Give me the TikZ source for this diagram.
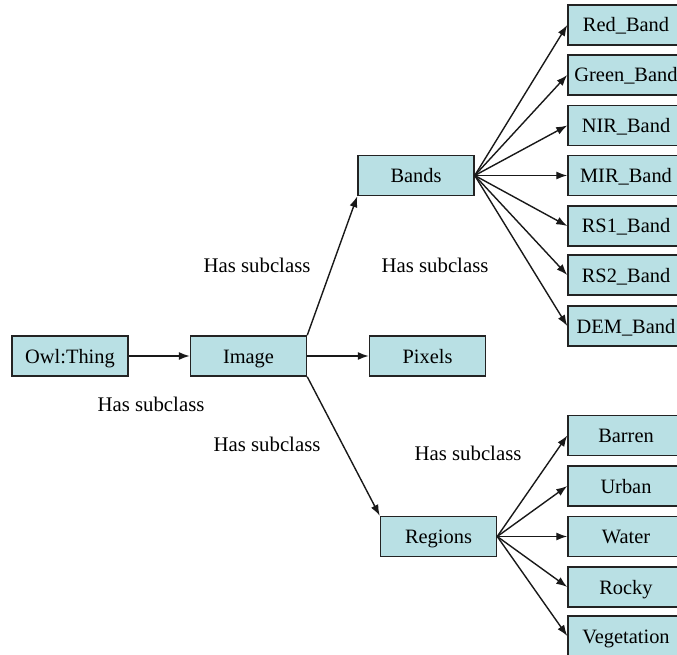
\documentclass[tikz,border=0pt]{standalone}
\usepackage{fontspec}
\setmainfont{Liberation Serif}
\usetikzlibrary{arrows.meta}
\definecolor{boxfill}{RGB}{185,224,228}
\definecolor{boxline}{RGB}{35,35,35}
\tikzset{
  cls/.style={draw=boxline, fill=boxfill, line width=1.5pt, rectangle,
    minimum width=116pt, minimum height=40pt, inner sep=0pt,
    text height=17pt, text depth=3pt,
    font=\fontsize{20.4}{24}\selectfont},
  rel/.style={draw=black!90, line width=1.4pt, -{Latex[length=11pt,width=8pt]}},
  lbl/.style={font=\fontsize{20.8}{24}\selectfont, inner sep=0pt}
}
\begin{document}
\begin{tikzpicture}[x=1pt,y=-1pt]
\useasboundingbox (0,0) rectangle (677,655);
\begin{scope}
\clip (0,0) rectangle (677,655);
% root and first level
\node[cls] (owl) at (70,356) {Owl:Thing};
\node[cls] (img) at (248.5,356) {Image};
\node[cls] (bands) at (416,175.5) {Bands};
\node[cls] (pix) at (427.5,356) {Pixels};
\node[cls] (reg) at (438.5,536.5) {Regions};
% band classes
\node[cls] (red)   at (626,25)  {Red\_Band};
\node[cls] (green) at (626,75)  {Green\_Band};
\node[cls] (nir)   at (626,125.5) {NIR\_Band};
\node[cls] (mir)   at (626,175.5) {MIR\_Band};
\node[cls] (rs1)   at (626,226) {RS1\_Band};
\node[cls] (rs2)   at (626,275) {RS2\_Band};
\node[cls] (dem)   at (626,326) {DEM\_Band};
% region classes
\node[cls] (bar) at (626,435.5) {Barren};
\node[cls] (urb) at (626,486)   {Urban};
\node[cls] (wat) at (626,536.5) {Water};
\node[cls] (roc) at (626,587)   {Rocky};
\node[cls] (veg) at (626,636)   {Vegetation};
\end{scope}
% connectors
\draw[rel] (owl.east) -- (img.west);
\draw[rel] (img.north east) -- (bands.south west);
\draw[rel] (img.east) -- (pix.west);
\draw[rel] (img.south east) -- (reg.north west);
\foreach \t in {red,green,nir,mir,rs1,rs2,dem}
  \draw[rel] (bands.east) -- (\t.west);
\foreach \t in {bar,urb,wat,roc,veg}
  \draw[rel] (reg.east) -- (\t.west);
% relation labels
\node[lbl] (l1) at (257,265) {Has subclass};
\node[lbl] (l2) at (435,265) {Has subclass};
\node[lbl] (l3) at (151,404) {Has subclass};
\node[lbl] (l4) at (267,444) {Has subclass};
\node[lbl] (l5) at (468,453) {Has subclass};
\end{tikzpicture}
\end{document}
